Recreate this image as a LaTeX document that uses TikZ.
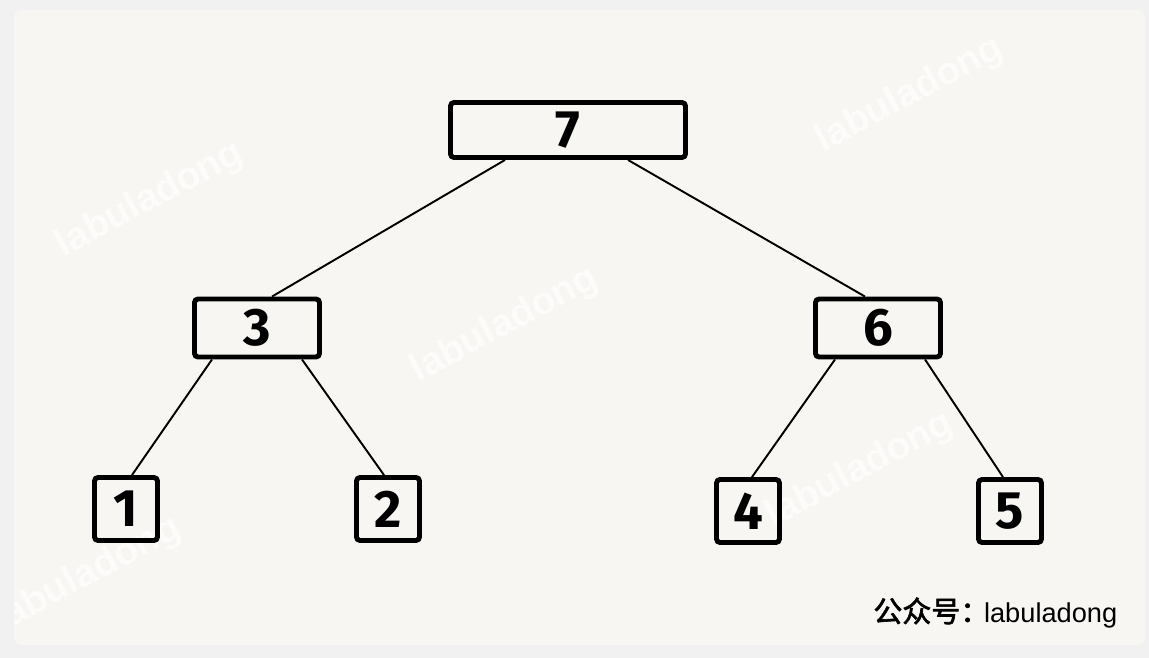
\documentclass[tikz,border=0pt]{standalone}
\usepackage{fontspec}
\setmainfont{Fira Sans}
\newfontfamily\wmfont{Liberation Sans}
\newfontfamily\cnfont{Noto Sans CJK SC}[FakeBold=2]
\usetikzlibrary{positioning}
\definecolor{paper}{HTML}{F7F6F3}
\definecolor{frame}{HTML}{F1F1F1}

\begin{document}
\begin{tikzpicture}[x=0.02cm, y=-0.02cm,
    box/.style={draw, line width=2.8pt, rounded corners=2pt, inner sep=0pt,
        font=\bfseries\fontsize{30}{34}\selectfont},
    wide/.style={box, minimum width=4.7cm, minimum height=1.1cm},
    mid/.style={box, minimum width=2.5cm, minimum height=1.16cm},
    leaf/.style={box, minimum width=1.26cm, minimum height=1.26cm},
    link/.style={line width=1.1pt},
    wmark/.style={text=white!70!paper, rotate=28, font=\wmfont\bfseries\fontsize{22}{24}\selectfont}]
    \useasboundingbox (0,0) rectangle (1149,658);
    \fill[frame] (0,0) rectangle (1149,658);
    \fill[paper, rounded corners=4pt] (14,10) rectangle (1145,645);

    % watermarks
    \node[wmark] (w1) at (150,200) {labuladong};
    \node[wmark] (w2) at (505,325) {labuladong};
    \node[wmark] (w3) at (910,95) {labuladong};
    \node[wmark] (w4) at (860,470) {labuladong};
    \begin{scope}
        \clip (14,10) rectangle (1145,645);
        \node[wmark] (w5) at (88,575) {labuladong};
    \end{scope}

    % tree
    \node[wide] (n7) at (568,130) {7};
    \node[mid] (n3) at (257,328) {3};
    \node[mid] (n6) at (878,328) {6};
    \node[leaf] (n1) at (126,509) {1};
    \node[leaf] (n2) at (388,509) {2};
    \node[leaf] (n4) at (748,511) {4};
    \node[leaf] (n5) at (1010,511) {5};

    \draw[link] ([xshift=-1.26cm]n7.south) -- ([xshift=0.3cm]n3.north);
    \draw[link] ([xshift=1.2cm]n7.south) -- ([xshift=-0.26cm]n6.north);
    \draw[link] ([xshift=-0.9cm]n3.south) -- ([xshift=0.12cm]n1.north);
    \draw[link] ([xshift=0.9cm]n3.south) -- ([xshift=-0.08cm]n2.north);
    \draw[link] ([xshift=-0.86cm]n6.south) -- ([xshift=0.08cm]n4.north);
    \draw[link] ([xshift=0.94cm]n6.south) -- ([xshift=-0.14cm]n5.north);

    \node[anchor=base west, inner sep=0pt] (sig) at (873,622)
        {\cnfont\fontsize{16.5}{18}\selectfont 公众号：\hspace{-3pt}\wmfont\fontsize{15.5}{18}\selectfont labuladong};
\end{tikzpicture}
\end{document}
